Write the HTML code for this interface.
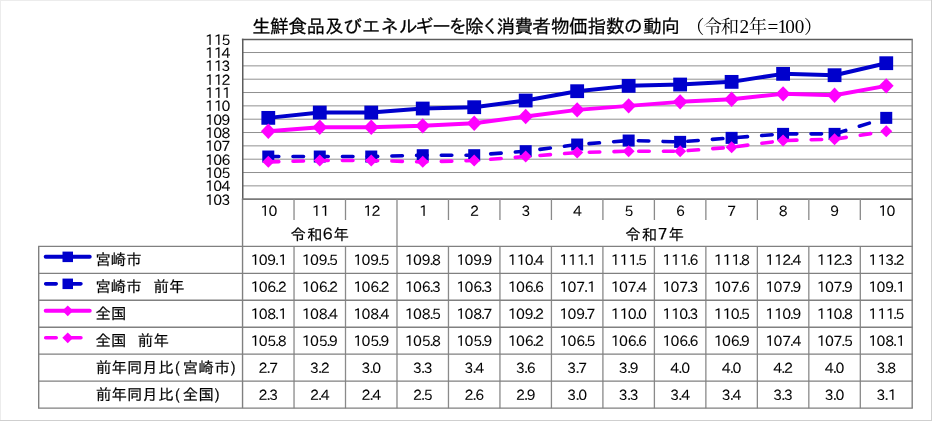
<!DOCTYPE html>
<html lang="ja"><head><meta charset="utf-8"><title>生鮮食品及びエネルギーを除く消費者物価指数の動向</title>
<style>html,body{margin:0;padding:0;background:#fff;overflow:hidden}svg{display:block;will-change:transform}</style></head>
<body>
<svg width="932" height="421" viewBox="0 0 932 421">
<rect x="0" y="0" width="932" height="421" fill="#fff"/>
<path d="M0.5 0V421M0 0.5H932" stroke="#ececec" stroke-width="1" fill="none"/>
<path d="M931.5 0V421M0 420.5H932" stroke="#cfcfcf" stroke-width="1" fill="none"/>
<path d="M242.55 52.53H912.2M242.55 65.87H912.2M242.55 79.20H912.2M242.55 92.53H912.2M242.55 105.87H912.2M242.55 119.20H912.2M242.55 132.53H912.2M242.55 145.87H912.2M242.55 159.20H912.2M242.55 172.53H912.2M242.55 185.87H912.2" stroke="#909090" stroke-width="1" fill="none"/>
<path d="M241.85000000000002 39.50H912.8000000000001" stroke="#5c5c5c" stroke-width="1.4" fill="none"/>
<path d="M242.75 38.80V200.0" stroke="#5c5c5c" stroke-width="1.5" fill="none"/>
<path d="M242.55 199.2V408.18" stroke="#808080" stroke-width="1.4" fill="none"/>
<path d="M912.2 39.19999999999999V408.18" stroke="#808080" stroke-width="1.4" fill="none"/>
<path d="M241.85000000000002 199.10H912.8000000000001" stroke="#7a7a7a" stroke-width="1.8" fill="none"/>
<path d="M294.03 199.2V220M294.03 246.30V408.18M345.51 199.2V220M345.51 246.30V408.18M396.99 199.2V408.18M448.47 199.2V220M448.47 246.30V408.18M499.95 199.2V220M499.95 246.30V408.18M551.43 199.2V220M551.43 246.30V408.18M602.91 199.2V220M602.91 246.30V408.18M654.39 199.2V220M654.39 246.30V408.18M705.87 199.2V220M705.87 246.30V408.18M757.35 199.2V220M757.35 246.30V408.18M808.83 199.2V220M808.83 246.30V408.18M860.31 199.2V220M860.31 246.30V408.18" stroke="#8a8a8a" stroke-width="1.3" fill="none"/>
<path d="M38.1 246.30H912.8000000000001M38.1 273.28H912.8000000000001M38.1 300.26H912.8000000000001M38.1 327.24H912.8000000000001M38.1 354.22H912.8000000000001M38.1 381.20H912.8000000000001M38.1 408.18H912.8000000000001" stroke="#808080" stroke-width="1.3" fill="none"/>
<path d="M38.7 246.30V408.18" stroke="#808080" stroke-width="1.4" fill="none"/>
<g font-family='"IPAPGothic","Liberation Sans","IPAGothic",sans-serif' font-size="14.1" text-anchor="middle" fill="#000" stroke="#000" stroke-width="0.1">
<text y="44.65" x="209.70 218.40 225.90">115</text>
<text y="57.98" x="209.70 218.40 225.90">114</text>
<text y="71.32" x="209.70 218.40 225.90">113</text>
<text y="84.65" x="209.70 218.40 225.90">112</text>
<text y="97.98" x="209.70 218.40 226.70">111</text>
<text y="111.32" x="209.70 218.40 225.90">110</text>
<text y="124.65" x="209.70 217.60 225.90">109</text>
<text y="137.98" x="209.70 217.60 225.90">108</text>
<text y="151.32" x="209.70 217.60 225.90">107</text>
<text y="164.65" x="209.70 217.60 225.90">106</text>
<text y="177.98" x="209.70 217.60 225.90">105</text>
<text y="191.32" x="209.70 217.60 225.90">104</text>
<text y="204.65" x="209.70 217.60 225.90">103</text>
</g>
<polyline points="268.29,117.87 319.77,112.53 371.25,112.53 422.73,108.53 474.21,107.20 525.69,100.53 577.17,91.20 628.65,85.87 680.13,84.53 731.61,81.87 783.09,73.87 834.57,75.20 886.25,63.20" fill="none" stroke="#0000CC" stroke-width="4" stroke-linejoin="round" stroke-linecap="round"/>
<rect x="261.39" y="110.97" width="13.8" height="13.8" fill="#0000CC"/><rect x="312.87" y="105.63" width="13.8" height="13.8" fill="#0000CC"/><rect x="364.35" y="105.63" width="13.8" height="13.8" fill="#0000CC"/><rect x="415.83" y="101.63" width="13.8" height="13.8" fill="#0000CC"/><rect x="467.31" y="100.30" width="13.8" height="13.8" fill="#0000CC"/><rect x="518.79" y="93.63" width="13.8" height="13.8" fill="#0000CC"/><rect x="570.27" y="84.30" width="13.8" height="13.8" fill="#0000CC"/><rect x="621.75" y="78.97" width="13.8" height="13.8" fill="#0000CC"/><rect x="673.23" y="77.63" width="13.8" height="13.8" fill="#0000CC"/><rect x="724.71" y="74.97" width="13.8" height="13.8" fill="#0000CC"/><rect x="776.19" y="66.97" width="13.8" height="13.8" fill="#0000CC"/><rect x="827.67" y="68.30" width="13.8" height="13.8" fill="#0000CC"/><rect x="879.36" y="56.30" width="13.8" height="13.8" fill="#0000CC"/>
<polyline points="268.29,156.53 319.77,156.53 371.25,156.53 422.73,155.20 474.21,155.20 525.69,151.20 577.17,144.53 628.65,140.53 680.13,141.87 731.61,137.87 783.09,133.87 834.57,133.87 886.25,117.87" fill="none" stroke="#0000CC" stroke-width="3.6" stroke-dasharray="10.5 14.22" stroke-linejoin="round" stroke-linecap="round"/>
<rect x="262.29" y="150.53" width="12" height="12" fill="#0000CC"/><rect x="313.77" y="150.53" width="12" height="12" fill="#0000CC"/><rect x="365.25" y="150.53" width="12" height="12" fill="#0000CC"/><rect x="416.73" y="149.20" width="12" height="12" fill="#0000CC"/><rect x="468.21" y="149.20" width="12" height="12" fill="#0000CC"/><rect x="519.69" y="145.20" width="12" height="12" fill="#0000CC"/><rect x="571.17" y="138.53" width="12" height="12" fill="#0000CC"/><rect x="622.65" y="134.53" width="12" height="12" fill="#0000CC"/><rect x="674.13" y="135.87" width="12" height="12" fill="#0000CC"/><rect x="725.61" y="131.87" width="12" height="12" fill="#0000CC"/><rect x="777.09" y="127.87" width="12" height="12" fill="#0000CC"/><rect x="828.57" y="127.87" width="12" height="12" fill="#0000CC"/><rect x="880.25" y="111.87" width="12" height="12" fill="#0000CC"/>
<polyline points="268.29,131.20 319.77,127.20 371.25,127.20 422.73,125.87 474.21,123.20 525.69,116.53 577.17,109.87 628.65,105.87 680.13,101.87 731.61,99.20 783.09,93.87 834.57,95.20 886.25,85.87" fill="none" stroke="#FF00FF" stroke-width="4" stroke-linejoin="round" stroke-linecap="round"/>
<path d="M260.89 131.20L268.29 123.50L275.69 131.20L268.29 138.90Z" fill="#FF00FF"/><path d="M312.37 127.20L319.77 119.50L327.17 127.20L319.77 134.90Z" fill="#FF00FF"/><path d="M363.85 127.20L371.25 119.50L378.65 127.20L371.25 134.90Z" fill="#FF00FF"/><path d="M415.33 125.87L422.73 118.17L430.13 125.87L422.73 133.57Z" fill="#FF00FF"/><path d="M466.81 123.20L474.21 115.50L481.61 123.20L474.21 130.90Z" fill="#FF00FF"/><path d="M518.29 116.53L525.69 108.83L533.09 116.53L525.69 124.23Z" fill="#FF00FF"/><path d="M569.77 109.87L577.17 102.17L584.57 109.87L577.17 117.57Z" fill="#FF00FF"/><path d="M621.25 105.87L628.65 98.17L636.05 105.87L628.65 113.57Z" fill="#FF00FF"/><path d="M672.73 101.87L680.13 94.17L687.53 101.87L680.13 109.57Z" fill="#FF00FF"/><path d="M724.21 99.20L731.61 91.50L739.01 99.20L731.61 106.90Z" fill="#FF00FF"/><path d="M775.69 93.87L783.09 86.17L790.49 93.87L783.09 101.57Z" fill="#FF00FF"/><path d="M827.17 95.20L834.57 87.50L841.97 95.20L834.57 102.90Z" fill="#FF00FF"/><path d="M878.86 85.87L886.25 78.17L893.65 85.87L886.25 93.57Z" fill="#FF00FF"/>
<polyline points="268.29,161.87 319.77,160.53 371.25,160.53 422.73,161.87 474.21,160.53 525.69,156.53 577.17,152.53 628.65,151.20 680.13,151.20 731.61,147.20 783.09,140.53 834.57,139.20 886.25,131.20" fill="none" stroke="#FF00FF" stroke-width="3.6" stroke-dasharray="10.5 14.22" stroke-linejoin="round" stroke-linecap="round"/>
<path d="M262.29 161.87L268.29 155.87L274.29 161.87L268.29 167.87Z" fill="#FF00FF"/><path d="M313.77 160.53L319.77 154.53L325.77 160.53L319.77 166.53Z" fill="#FF00FF"/><path d="M365.25 160.53L371.25 154.53L377.25 160.53L371.25 166.53Z" fill="#FF00FF"/><path d="M416.73 161.87L422.73 155.87L428.73 161.87L422.73 167.87Z" fill="#FF00FF"/><path d="M468.21 160.53L474.21 154.53L480.21 160.53L474.21 166.53Z" fill="#FF00FF"/><path d="M519.69 156.53L525.69 150.53L531.69 156.53L525.69 162.53Z" fill="#FF00FF"/><path d="M571.17 152.53L577.17 146.53L583.17 152.53L577.17 158.53Z" fill="#FF00FF"/><path d="M622.65 151.20L628.65 145.20L634.65 151.20L628.65 157.20Z" fill="#FF00FF"/><path d="M674.13 151.20L680.13 145.20L686.13 151.20L680.13 157.20Z" fill="#FF00FF"/><path d="M725.61 147.20L731.61 141.20L737.61 147.20L731.61 153.20Z" fill="#FF00FF"/><path d="M777.09 140.53L783.09 134.53L789.09 140.53L783.09 146.53Z" fill="#FF00FF"/><path d="M828.57 139.20L834.57 133.20L840.57 139.20L834.57 145.20Z" fill="#FF00FF"/><path d="M880.25 131.20L886.25 125.20L892.25 131.20L886.25 137.20Z" fill="#FF00FF"/>
<text font-family='"IPAPGothic","IPAGothic","Liberation Sans","Noto Sans CJK JP",sans-serif' font-size="18.67" text-anchor="middle" fill="#000" stroke="#000" stroke-width="0.25" y="32.6" x="261.3 279.4 297.6 315.9 334.3 352.8 371.2 389.7 408.2 424.5 441.4 457.4 474.4 489.8 505.8 523.8 541.7 560.4 578.3 596.9 615.3 633.3 652.3 670.7">生鮮食品及びエネルギーを除く消費者物価指数の動向</text>
<text font-family='"Noto Serif CJK JP","Liberation Serif",serif' font-size="18.4" text-anchor="middle" fill="#000" y="33"><tspan x="695.2">（</tspan><tspan x="712.6 729.9">令和</tspan><tspan font-family='"Liberation Serif","Noto Serif CJK JP",serif' font-size="19.2" x="744.4">2</tspan><tspan x="757.9">年</tspan><tspan font-family='"Liberation Serif","Noto Serif CJK JP",serif' font-size="19.2" x="772.8 782.4 790.1 799.5">=100</tspan><tspan x="813.2">）</tspan></text>
<g font-family='"IPAPGothic","Liberation Sans","IPAGothic",sans-serif' font-size="14.1" text-anchor="middle" fill="#000" stroke="#000" stroke-width="0.1">
<text y="215.60" x="264.99 272.89">10</text>
<text y="215.60" x="316.47 325.17">11</text>
<text y="215.60" x="367.95 375.85">12</text>
<text y="215.60" x="423.73">1</text>
<text y="215.60" x="474.41">2</text>
<text y="215.60" x="525.89">3</text>
<text y="215.60" x="577.37">4</text>
<text y="215.60" x="628.85">5</text>
<text y="215.60" x="680.33">6</text>
<text y="215.60" x="731.81">7</text>
<text y="215.60" x="783.29">8</text>
<text y="215.60" x="834.77">9</text>
<text y="215.60" x="882.95 890.86">10</text>
<text y="265.14" x="255.09 263.09 271.79 277.19 282.89">109.1</text>
<text y="265.14" x="306.57 314.57 323.27 328.67 333.57">109.5</text>
<text y="265.14" x="358.05 366.05 374.75 380.15 385.05">109.5</text>
<text y="265.14" x="409.53 417.53 426.23 431.63 436.53">109.8</text>
<text y="265.14" x="461.01 469.01 477.71 483.11 488.01">109.9</text>
<text y="265.14" x="512.49 521.29 529.19 534.59 539.49">110.4</text>
<text y="265.14" x="563.97 572.77 581.47 586.07 591.77">111.1</text>
<text y="265.14" x="615.45 624.25 632.95 637.55 642.45">111.5</text>
<text y="265.14" x="666.93 675.73 684.43 689.03 693.93">111.6</text>
<text y="265.14" x="718.41 727.21 735.91 740.51 745.41">111.8</text>
<text y="265.14" x="769.89 778.69 786.59 791.99 796.89">112.4</text>
<text y="265.14" x="821.37 830.17 838.07 843.47 848.37">112.3</text>
<text y="265.14" x="873.05 881.85 889.75 895.15 900.05">113.2</text>
<text y="292.12" x="255.09 263.09 271.79 277.19 282.09">106.2</text>
<text y="292.12" x="306.57 314.57 323.27 328.67 333.57">106.2</text>
<text y="292.12" x="358.05 366.05 374.75 380.15 385.05">106.2</text>
<text y="292.12" x="409.53 417.53 426.23 431.63 436.53">106.3</text>
<text y="292.12" x="461.01 469.01 477.71 483.11 488.01">106.3</text>
<text y="292.12" x="512.49 520.49 529.19 534.59 539.49">106.6</text>
<text y="292.12" x="563.97 571.97 580.67 586.07 591.77">107.1</text>
<text y="292.12" x="615.45 623.45 632.15 637.55 642.45">107.4</text>
<text y="292.12" x="666.93 674.93 683.63 689.03 693.93">107.3</text>
<text y="292.12" x="718.41 726.41 735.11 740.51 745.41">107.6</text>
<text y="292.12" x="769.89 777.89 786.59 791.99 796.89">107.9</text>
<text y="292.12" x="821.37 829.37 838.07 843.47 848.37">107.9</text>
<text y="292.12" x="873.05 881.05 889.75 895.15 900.85">109.1</text>
<text y="319.10" x="255.09 263.09 271.79 277.19 282.89">108.1</text>
<text y="319.10" x="306.57 314.57 323.27 328.67 333.57">108.4</text>
<text y="319.10" x="358.05 366.05 374.75 380.15 385.05">108.4</text>
<text y="319.10" x="409.53 417.53 426.23 431.63 436.53">108.5</text>
<text y="319.10" x="461.01 469.01 477.71 483.11 488.01">108.7</text>
<text y="319.10" x="512.49 520.49 529.19 534.59 539.49">109.2</text>
<text y="319.10" x="563.97 571.97 580.67 586.07 590.97">109.7</text>
<text y="319.10" x="615.45 624.25 632.15 637.55 642.45">110.0</text>
<text y="319.10" x="666.93 675.73 683.63 689.03 693.93">110.3</text>
<text y="319.10" x="718.41 727.21 735.11 740.51 745.41">110.5</text>
<text y="319.10" x="769.89 778.69 786.59 791.99 796.89">110.9</text>
<text y="319.10" x="821.37 830.17 838.07 843.47 848.37">110.8</text>
<text y="319.10" x="873.05 881.85 890.55 895.15 900.05">111.5</text>
<text y="346.08" x="255.09 263.09 271.79 277.19 282.09">105.8</text>
<text y="346.08" x="306.57 314.57 323.27 328.67 333.57">105.9</text>
<text y="346.08" x="358.05 366.05 374.75 380.15 385.05">105.9</text>
<text y="346.08" x="409.53 417.53 426.23 431.63 436.53">105.8</text>
<text y="346.08" x="461.01 469.01 477.71 483.11 488.01">105.9</text>
<text y="346.08" x="512.49 520.49 529.19 534.59 539.49">106.2</text>
<text y="346.08" x="563.97 571.97 580.67 586.07 590.97">106.5</text>
<text y="346.08" x="615.45 623.45 632.15 637.55 642.45">106.6</text>
<text y="346.08" x="666.93 674.93 683.63 689.03 693.93">106.6</text>
<text y="346.08" x="718.41 726.41 735.11 740.51 745.41">106.9</text>
<text y="346.08" x="769.89 777.89 786.59 791.99 796.89">107.4</text>
<text y="346.08" x="821.37 829.37 838.07 843.47 848.37">107.5</text>
<text y="346.08" x="873.05 881.05 889.75 895.15 900.85">108.1</text>
<text y="373.06" x="262.94 268.64 273.74">2.7</text>
<text y="373.06" x="314.42 320.12 325.22">3.2</text>
<text y="373.06" x="365.90 371.60 376.70">3.0</text>
<text y="373.06" x="417.38 423.08 428.18">3.3</text>
<text y="373.06" x="468.86 474.56 479.66">3.4</text>
<text y="373.06" x="520.34 526.04 531.14">3.6</text>
<text y="373.06" x="571.82 577.52 582.62">3.7</text>
<text y="373.06" x="623.30 629.00 634.10">3.9</text>
<text y="373.06" x="674.78 680.48 685.58">4.0</text>
<text y="373.06" x="726.26 731.96 737.06">4.0</text>
<text y="373.06" x="777.74 783.44 788.54">4.2</text>
<text y="373.06" x="829.22 834.92 840.02">4.0</text>
<text y="373.06" x="880.90 886.61 891.71">3.8</text>
<text y="400.04" x="262.94 268.64 273.74">2.3</text>
<text y="400.04" x="314.42 320.12 325.22">2.4</text>
<text y="400.04" x="365.90 371.60 376.70">2.4</text>
<text y="400.04" x="417.38 423.08 428.18">2.5</text>
<text y="400.04" x="468.86 474.56 479.66">2.6</text>
<text y="400.04" x="520.34 526.04 531.14">2.9</text>
<text y="400.04" x="571.82 577.52 582.62">3.0</text>
<text y="400.04" x="623.30 629.00 634.10">3.3</text>
<text y="400.04" x="674.78 680.48 685.58">3.4</text>
<text y="400.04" x="726.26 731.96 737.06">3.4</text>
<text y="400.04" x="777.74 783.44 788.54">3.3</text>
<text y="400.04" x="829.22 834.92 840.02">3.0</text>
<text y="400.04" x="880.90 886.61 892.50">3.1</text>
</g>
<g font-family='"IPAPGothic","IPAGothic","Liberation Sans","Noto Sans CJK JP",sans-serif' font-size="15.33" text-anchor="middle" fill="#000" stroke="#000" stroke-width="0.2">
<text y="239.8"><tspan x="298.17 314.57">令和</tspan><tspan font-size="16" x="327.77">６</tspan><tspan x="341.27">年</tspan></text>
<text y="239.8"><tspan x="633.00 649.39">令和</tspan><tspan font-size="16" x="662.60">７</tspan><tspan x="676.10">年</tspan></text>
</g>
<g font-family='"IPAPGothic","IPAGothic","Liberation Sans","Noto Sans CJK JP",sans-serif' font-size="15.33" text-anchor="middle" fill="#000" stroke="#000" stroke-width="0.2">
<text y="265.29" x="103.1 118.4 134.0">宮崎市</text>
<text y="292.27" x="103.1 118.4 134.0 147.5 161.1 176.7">宮崎市　前年</text>
<text y="319.25" x="103.1 118.6">全国</text>
<text y="346.23" x="103.1 118.6 132.0 145.5 161.1">全国　前年</text>
<text y="373.21" x="103.6 119.2 134.7 149.9 166.2 177.4 190.3 206.1 222.1 233.4">前年同月比(宮崎市)</text>
<text y="400.19" x="103.6 119.2 134.7 149.9 166.2 177.4 190.3 206.1 217.3">前年同月比(全国)</text>
</g>
<path d="M45.7 256.85H89.7" stroke="#0000CC" stroke-width="4" stroke-linecap="round" fill="none"/>
<rect x="62.5" y="251.60" width="10.5" height="10.5" fill="#0000CC"/>
<path d="M45.7 283.83H89.7" stroke="#0000CC" stroke-width="3.6" stroke-linecap="round" stroke-dasharray="10.5 14.22" fill="none"/>
<rect x="62.5" y="278.58" width="10.5" height="10.5" fill="#0000CC"/>
<path d="M45.7 310.81H89.7" stroke="#FF00FF" stroke-width="4" stroke-linecap="round" fill="none"/>
<path d="M62.35 310.81L67.75 305.41L73.15 310.81L67.75 316.21Z" fill="#FF00FF"/>
<path d="M45.7 337.79H89.7" stroke="#FF00FF" stroke-width="3.6" stroke-linecap="round" stroke-dasharray="10.5 14.22" fill="none"/>
<path d="M62.35 337.79L67.75 332.39L73.15 337.79L67.75 343.19Z" fill="#FF00FF"/>
</svg>
</body></html>
